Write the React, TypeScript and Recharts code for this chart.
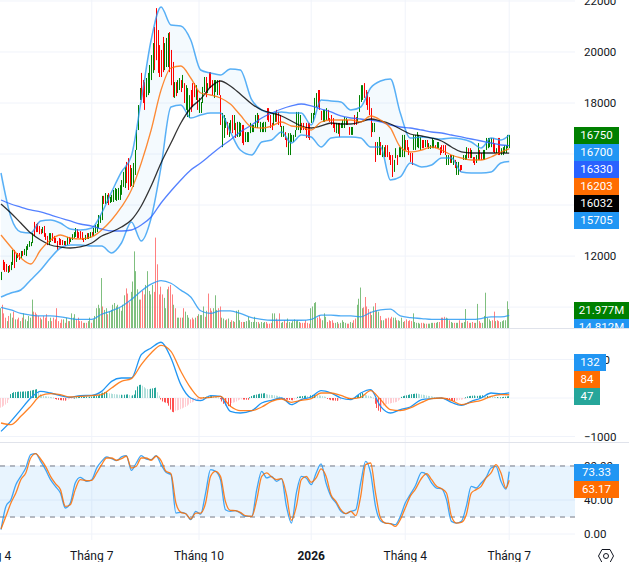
import { Area, Bar, CartesianGrid, ComposedChart, Line, ReferenceArea, ReferenceLine, XAxis, YAxis } from "recharts"

// daily price range
const highs = [
  11380, 11850, 11770, 11690, 11610, 11650, 11770, 12240, 12240, 12080, 12120, 12120, 12200, 12200, 12280, 12390, 12470, 12590, 12550, 12900,
  13340, 13260, 13300, 13180, 13060, 13140, 13180, 12900, 12790, 12900, 12900, 12900, 12790, 12710, 12590, 12710, 12670, 12630, 12590, 12590,
  12750, 12750, 12710, 12860, 12940, 13100, 13060, 12940, 12980, 12940, 12710, 12830, 12900, 12900, 12940, 12940, 13100, 13220, 13260, 13610,
  13610, 14360, 14360, 14470, 14400, 14470, 14320, 14400, 14590, 14670, 14630, 14670, 14780, 14980, 15300, 15490, 15690, 15840, 15570, 15450,
  15650, 16160, 16940, 17920, 18590, 19180, 18900, 18820, 18980, 19180, 19490, 19880, 20350, 20980, 21720, 20860, 20270, 20080, 20590, 20350,
  20550, 20740, 20780, 20080, 19610, 18820, 18820, 18900, 18980, 18900, 19100, 18780, 18700, 18590, 18310, 18510, 18780, 18780, 18700, 18510,
  18200, 18040, 18630, 19020, 19020, 18780, 19210, 19210, 18900, 18900, 18900, 18900, 18900, 18310, 17610, 17530, 17410, 17260, 17220, 17330,
  17530, 17530, 17220, 17260, 17260, 17220, 17140, 17140, 16860, 16860, 16860, 17220, 17140, 17140, 17530, 17610, 17530, 17260, 17220, 17260,
  17260, 17800, 17800, 17530, 17220, 17610, 17650, 17730, 17650, 17530, 17100, 17100, 16860, 16630, 16820, 16820, 16750, 16750, 16940, 17650,
  17650, 17530, 17220, 17220, 17060, 17220, 17220, 17220, 17610, 17610, 18200, 18390, 18510, 18510, 17690, 17730, 17730, 17800, 17730, 17410,
  17530, 17410, 17220, 17220, 17220, 17220, 17220, 17330, 17450, 17410, 17330, 17060, 17060, 17060, 17530, 17450, 17650, 18310, 18700, 18700,
  18780, 18510, 18430, 18230, 17800, 17220, 17220, 16470, 16470, 16670, 16470, 16350, 16270, 16350, 16350, 16080, 15960, 15960, 15770, 16230,
  15960, 16270, 16270, 16750, 16750, 16550, 16550, 16270, 16040, 16040, 16750, 16750, 16860, 16750, 16670, 16550, 16550, 16550, 16550, 16430,
  16350, 16630, 16550, 16350, 16470, 16470, 16270, 16350, 16350, 16350, 15960, 15960, 15960, 15960, 15960, 15770, 15690, 15690, 15570, 15570,
  15960, 15960, 16270, 16230, 16230, 16160, 15880, 15880, 15960, 16430, 16160, 16040, 16160, 16160, 16630, 16630, 16630, 16630, 16630, 16430,
  16230, 16630, 16630, 16230, 16270, 16350, 16350, 16750, 16750,
]
const lows = [
  11060, 11450, 11380, 11380, 11340, 11380, 11450, 11650, 11530, 11770, 11920, 11850, 11920, 12000, 12040, 12000, 12240, 12360, 12390, 12510,
  12790, 12940, 12940, 12860, 12860, 12900, 12750, 12630, 12430, 12430, 12550, 12590, 12510, 12510, 12240, 12430, 12430, 12430, 12430, 12390,
  12430, 12470, 12550, 12630, 12710, 12750, 12710, 12710, 12670, 12630, 12550, 12630, 12670, 12670, 12710, 12790, 12790, 12900, 12940, 13100,
  13300, 13410, 14040, 14040, 14080, 14000, 14080, 14120, 14120, 14200, 14160, 14200, 14200, 14400, 14710, 14670, 14860, 14590, 14710, 14750,
  14710, 15180, 16160, 16940, 18120, 18120, 18000, 17730, 18230, 18310, 18390, 18900, 19180, 19290, 19680, 19180, 19020, 19020, 19210, 19290,
  19410, 19410, 19210, 18700, 18230, 18200, 18270, 18390, 18510, 18430, 18590, 18000, 17730, 17450, 17410, 17650, 17840, 18230, 18120, 17730,
  17610, 17610, 18000, 18430, 18230, 18390, 18590, 18590, 18310, 18200, 18430, 18310, 18310, 17140, 16270, 16630, 17020, 16750, 16670, 16820,
  16820, 16940, 16630, 16670, 16670, 16710, 16430, 16350, 16470, 16470, 16470, 16820, 16860, 16860, 17020, 17020, 17220, 16860, 16860, 16860,
  16860, 17330, 17260, 17020, 16940, 17140, 17260, 17260, 17140, 17060, 16670, 16670, 16550, 16270, 15960, 15960, 16470, 16470, 16670, 16940,
  16940, 16820, 16940, 16940, 16940, 16630, 16630, 16550, 17220, 17260, 17530, 17840, 17840, 17730, 17330, 17260, 17260, 17330, 17330, 17260,
  17140, 17020, 16860, 16820, 16790, 16670, 17020, 17020, 17020, 17140, 17140, 16750, 16750, 16750, 17140, 17140, 17260, 17650, 18040, 18120,
  18200, 17920, 17730, 17530, 16670, 16860, 16860, 15690, 15960, 15960, 15960, 15880, 15880, 15880, 15880, 15770, 15570, 15100, 15300, 15840,
  15570, 15880, 15880, 15880, 15880, 16160, 16160, 15960, 15690, 15570, 16160, 16160, 16270, 16230, 16160, 16230, 16230, 16270, 16270, 16200,
  16200, 16230, 16230, 16230, 16230, 16230, 15960, 16040, 16040, 15960, 15570, 15570, 15650, 15650, 15570, 15450, 15180, 15180, 15300, 15370,
  15770, 15770, 15770, 15840, 15840, 15840, 15650, 15570, 15650, 15770, 15770, 15770, 15770, 15770, 16160, 16230, 16270, 16270, 16080, 16040,
  16040, 15960, 15960, 15960, 15960, 16040, 16040, 16230, 16230,
]
// days that closed down, the rest closed up
const redDays = [
  1, 2, 3, 5, 8, 10, 11, 13, 20, 21, 22, 23, 24, 26, 27, 28, 31, 32, 33, 34, 35, 36, 37, 39, 41, 46, 47, 48, 49, 50, 52, 55, 62, 65, 76, 77, 78,
  85, 86, 87, 93, 94, 95, 96, 97, 98, 102, 103, 104, 106, 109, 111, 115, 116, 117, 119, 124, 126, 127, 128, 132, 133, 137, 140, 142, 146, 147,
  156, 161, 162, 163, 164, 167, 168, 169, 172, 173, 182, 183, 184, 185, 186, 187, 192, 193, 194, 198, 199, 200, 201, 202, 205, 210, 211, 214, 215,
  220, 221, 222, 223, 224, 227, 230, 233, 234, 235, 236, 237, 240, 245, 246, 247, 248, 249, 255, 256, 258, 263, 266, 267, 268, 269, 272, 275, 278,
  279, 283, 284, 286, 287, 290, 291, 298, 299, 301, 302,
]
// volume in millions
const volumes = [
  23, 27, 17, 12, 8, 14, 17, 12, 19, 10, 10, 12, 8, 12, 17, 10, 8, 14, 12, 33, 19, 18, 16, 14, 12, 10, 14, 12, 16, 8, 12,
  8, 12, 10, 23, 8, 6, 10, 10, 6, 12, 8, 8, 17, 12, 16, 10, 12, 8, 8, 6, 6, 6, 8, 12, 6, 10, 14, 23, 27, 23, 58,
  25, 21, 23, 16, 19, 21, 27, 29, 25, 27, 23, 20, 27, 38, 46, 40, 30, 42, 54, 89, 66, 45, 33, 33, 43, 39, 50, 66, 43, 39, 50, 42, 105, 74,
  39, 48, 39, 35, 23, 45, 48, 50, 39, 27, 23, 12, 12, 12, 12, 23, 19, 15, 12, 10, 12, 10, 12, 14, 16, 15, 15, 25, 13, 20, 40, 23, 20, 23, 38,
  21, 23, 25, 12, 11, 9, 10, 11, 7, 9, 8, 7, 20, 21, 9, 7, 7, 7, 8, 13, 9, 7, 7, 13, 7, 7, 5, 7, 6, 7, 7, 5, 5, 6, 17, 17, 11, 8, 17, 6, 7, 9, 6,
  11, 7, 6, 8, 10, 8, 9, 7, 6, 6, 6, 9, 6, 5, 23, 25, 29, 30, 12, 15, 11, 9, 17, 13, 7, 9, 8, 9, 6, 6, 7, 5, 6, 9, 7, 6, 5, 5, 7, 6, 9, 11, 27, 34,
  47, 23, 24, 36, 25, 22, 19, 15, 25, 29, 20, 19, 14, 9, 9, 11, 11, 12, 11, 13, 12, 12, 9, 9, 8, 12, 7, 8, 10, 8, 9, 8, 17, 7, 6, 6, 5, 6, 6, 5, 5,
  5, 5, 6, 6, 6, 6, 7, 7, 12, 12, 13, 12, 11, 9, 7, 6, 6, 6, 6, 9, 6, 6, 7, 22, 8, 6, 6, 7, 6, 6, 28, 8, 6, 6, 14, 41, 12, 10, 8, 9, 19, 8, 9, 8, 7, 8, 9, 9, 31, 22,
]
const histogram = [
  -250, -230, -200, -170, -130, -40, 100, 130, 150, 155, 160, 165, 165, 165, 170, 170, 175, 180, 190, 200, 210, 220, 230, 150, 100, 70, 55, 45, 40, 35,
  25, 20, 15, -20, -40, -50, -55, -60, -65, -70, -60, -40, -25, -15, -10, 10, 20, 25, 30, 30, 30, 32, 35, 30, 35, 40, 45, 50, 55, 60,
  90, 120, 140, 150, 155, 130, 120, 115, 105, 100, 95, 90, 85, 85, 80, 85, 90, 95, 80, 60, 70, 90, 200, 300, 340, 345, 320, 280, 250, 235,
  230, 240, 250, 260, 270, 150, 60, -40, -90, -110, -120, -135, -200, -300, -360, -370, -330, -320, -310, -290, -270, -250, -230, -200, -170, -130, -110, -90, -70, -60,
  -50, -45, -35, 20, 25, 35, 40, 45, 50, 45, 35, 25, 15, -30, -90, -150, -190, -180, -210, -215, -130, -120, -110, -90, -60, -40, -35, -40, -42, -45,
  -48, 20, 50, 70, 80, 90, 100, 110, 115, 120, 125, 100, 90, 85, 80, 75, 70, 60, 55, 40, -15, -25, -35, -40, -45, -50, -55, -60, -40, -15,
  30, 40, 45, 50, 55, 60, 50, 40, 70, 80, 90, 85, 75, 70, 60, 50, 40, 30, -20, -40, -55, -60, -65, -70, -75, -60, -50, -30, -25, -20,
  -15, -25, -30, -20, -10, 30, 60, 90, 120, 135, 100, 80, 70, 60, 50, 30, 10, -150, -260, -330, -360, -250, -200, -170, -160, -150, -140, -130, -120, -110,
  -100, -70, -40, 30, 50, 60, 70, 80, 90, 100, 105, 110, 115, 110, 100, 90, 85, 75, 65, 55, 50, 45, 35, 25, 15, 10, 8, 5, -20, -30,
  -40, -50, -60, -70, -75, -80, -70, -60, -50, -45, -35, -25, 20, 40, 50, 55, 60, 65, 50, 55, 60, 65, 70, 60, 50, 55, 45, 40, 35, 30,
  25, 25, 20, 20, 22, 30, 35, 42, 47,
]

// indicator lines, one reading every 10 pixels of the chart
const bandUpper = [
  15256, 13532, 12944, 12904, 13375, 13414, 13296, 13061, 13022, 13100, 13688, 14512, 15296, 15923, 18118, 20470, 21764, 21058, 21019, 20470, 19294, 19176, 19098, 19333, 19294, 18118,
  17726, 17608, 17648, 17608, 17608, 17138, 18118, 18079, 18040, 17726, 17844, 18588, 18863, 18941, 17608, 16628, 16668, 16628, 16589, 16628, 16589, 16472, 16236, 16628, 16550, 16746,
]
const bandLower = [
  10396, 10552, 10670, 11062, 11454, 11924, 12316, 12434, 12434, 12395, 12395, 12120, 12512, 13336, 12591, 13492, 15492, 17844, 17922, 17412, 17530, 17608, 17608, 16864, 16158, 15962,
  16472, 16550, 16864, 16432, 16746, 16668, 16276, 16628, 16668, 16668, 16628, 16276, 16276, 14982, 15100, 15648, 15492, 15570, 15844, 15844, 15296, 15256, 15256, 15296, 15648, 15705,
]
const ma20 = [
  12826, 12356, 11924, 11689, 12238, 12630, 12826, 12708, 12669, 12748, 13022, 13414, 13924, 14590, 15648, 16942, 18510, 19372, 19451, 18980, 18392, 18314, 18196, 17961, 17530, 17060,
  17020, 17099, 17256, 17099, 17060, 16942, 17256, 17334, 17334, 17334, 17256, 17491, 17334, 17020, 16276, 16080, 16158, 16276, 16158, 15962, 15844, 15766, 15766, 15884, 16080, 16203,
]
const ma50 = [
  14041, 13688, 13296, 12904, 12630, 12434, 12356, 12316, 12356, 12512, 12787, 12944, 13140, 13414, 13963, 14747, 15648, 16432, 17216, 17804, 18157, 18628, 18863, 18667, 18353, 17961,
  17726, 17608, 17491, 17295, 17099, 17020, 17099, 17216, 17177, 17177, 17256, 17373, 17295, 17177, 16981, 16785, 16707, 16628, 16511, 16276, 16080, 16040, 16040, 16040, 16040, 16032,
]
const ma200 = [
  14198, 14041, 13923, 13806, 13728, 13610, 13492, 13375, 13257, 13178, 13061, 12983, 12983, 13022, 13218, 13532, 14080, 14551, 14982, 15374, 15648, 15962, 16276, 16550, 16864, 17138,
  17412, 17608, 17765, 17883, 17961, 17883, 17765, 17648, 17491, 17412, 17373, 17334, 17256, 17138, 17060, 17020, 16942, 16864, 16824, 16746, 16668, 16589, 16511, 16432, 16354, 16330,
]
const volumeMa = [
  24, 21, 17, 15, 14, 14, 13, 11, 10, 10, 16, 20, 25, 33, 43, 51, 55, 52, 44, 36, 20, 17, 20, 20, 17, 12,
  10, 9, 9, 9, 9, 10, 15, 15, 14, 14, 13, 18, 21, 22, 14, 12, 11, 10, 10, 10, 10, 10, 11, 13, 13, 14.8,
]
const macd = [
  -867, -607, -303, 0, 173, 130, 61, 17, 61, 69, 173, 433, 520, 520, 1127, 1300, 1450, 1040, 347, 0, -69, 61, 43, -347, -390, -329,
  -130, -61, 0, -173, -43, 26, 191, 130, 0, -43, 130, 217, -217, -390, -303, -234, -43, -17, 0, -113, -191, -87, 0, 130, 104, 132,
]
const macdSignal = [
  -650, -694, -477, -217, 61, 113, 87, 26, 43, 61, 87, 260, 433, 503, 867, 1170, 1370, 1214, 694, 260, 0, 17, 43, -217, -329, -329,
  -234, -87, -26, -113, -61, -17, 130, 130, 69, -17, 17, 191, -43, -303, -329, -260, -113, -17, 0, -61, -173, -113, -61, 43, 87, 84,
]

// stochastic, one reading every 5 pixels
const stochK = [
  5.1, 32.5, 40.4, 58, 67.8, 77.6, 93.3, 94.5, 85.5, 75.7, 63.9, 56, 48.2, 30.6, 36.5, 60, 66.7, 62, 63.9, 77.6, 85.5, 90.6, 88.6, 86.3, 90.6, 92.2, 74.9, 83.5, 92.2, 88.2, 87.5, 92.2, 81.6, 72.5,
  69.8, 24.7, 25.5, 23.9, 16.9, 26.7, 23.5, 48.2, 75.7, 73.7, 63.9, 28.6, 26.7, 27.5, 24.7, 20.8, 20.8, 52.2, 73.7, 65.9, 67.8, 62, 65.1, 32.5, 12.9, 48.2, 67.8, 65.9, 58, 71.8, 82.4,
  60, 44.3, 36.5, 26.7, 23.9, 26.7, 28.6, 60, 85.5, 71.8, 32.5, 15.7, 12.9, 12.2, 11, 20.8, 36.5, 46.3, 56.1, 72.5, 69.8, 60, 54.1, 53.3, 40.4, 14.9, 12.9, 14.9, 32.5, 56.1, 54.1, 60, 66.7, 77.6, 79.6, 62, 52.9, 73.33,
]
const stochD = [
  5.9, 20.8, 36.5, 48.2, 63.9, 71.8, 89.4, 94.5, 88.2, 79.6, 67.8, 59.2, 52.2, 32.5, 34.5, 52.2, 63.9, 62.7, 63.1, 71.8, 81.6, 89.4, 89.4, 86.7, 88.6, 91.4, 77.6, 79.6, 89.4, 89.4, 86.7, 91.4, 86.3, 73.7,
  71, 36.5, 25.5, 23.9, 17.6, 24.7, 24.7, 36.5, 67.8, 73.7, 67.8, 38.4, 27.8, 27.5, 25.5, 21.6, 20.8, 40.4, 67.8, 71.8, 67.1, 63.9, 65.1, 46.3, 16.1, 32.5, 63.9, 67.8, 60.8, 65.9, 76.5,
  67.8, 46.3, 38.4, 28.6, 23.9, 26.7, 21.6, 44.3, 81.6, 83.5, 48.2, 18.8, 12.9, 12.2, 9, 16.9, 30.6, 44.3, 52.2, 65.9, 71, 63.9, 56.1, 53.3, 48.2, 20.8, 12.9, 13.7, 22.7, 48.2, 52.2, 56.1, 65.9, 71.8, 81.6, 71.8, 54.1, 63.17,
]

const dateTicks = [-7, 55, 120, 188, 245, 308]
const dateLabels = ["Tháng 4", "Tháng 7", "Tháng 10", "2026", "Tháng 4", "Tháng 7"]
const priceTicks = [10000, 12000, 14000, 16000, 18000, 20000, 22000]
const macdTicks = [-1000, 0, 1000]
const stochTicks = [0, 40, 80]

const priceTags = [
  { text: "16750", color: "#008000", top: 127 },
  { text: "16700", color: "#2196f3", top: 144 },
  { text: "16330", color: "#2962ff", top: 161 },
  { text: "16203", color: "#ff6d00", top: 178 },
  { text: "16032", color: "#000000", top: 195 },
  { text: "15705", color: "#2196f3", top: 212 },
  { text: "21.977M", color: "#008000", top: 302 },
]
const macdTags = [
  { text: "132", color: "#2196f3", top: 354, width: 32 },
  { text: "84", color: "#ff6d00", top: 371, width: 26 },
  { text: "47", color: "#26a69a", top: 388, width: 26 },
]
const stochTags = [
  { text: "73.33", color: "#2196f3", top: 464 },
  { text: "63.17", color: "#ff6d00", top: 481 },
]

const FONT = "Roboto, sans-serif"
const DAY_DOMAIN: [number, number] = [-24.85, 347.88]
const GRID = "#f0f3fa"

const rows: any[] = highs.map((high, day) => ({
  day,
  high,
  low: lows[day],
  up: !redDays.includes(day),
  volume: volumes[day],
  hist: histogram[day],
}))

function placeReadings(key: string, values: number[], step: number) {
  values.forEach((v, k) => {
    rows[Math.min(Math.round(k * step), rows.length - 1)][key] = v
  })
}
placeReadings("upper", bandUpper, 6.06)
placeReadings("lower", bandLower, 6.06)
placeReadings("ma20", ma20, 6.06)
placeReadings("ma50", ma50, 6.06)
placeReadings("ma200", ma200, 6.06)
placeReadings("volMa", volumeMa, 6.06)
placeReadings("macd", macd, 6.06)
placeReadings("signal", macdSignal, 6.06)
placeReadings("k", stochK, 3.03)
placeReadings("d", stochD, 3.03)

// 1px wide marks, snapped so they stay crisp like the original
function thinBar(colorOf: (row: any) => string) {
  return (props: any) => {
    const top = Math.min(props.y, props.y + props.height)
    return (
      <rect
        x={Math.round(props.x)}
        y={top}
        width={1}
        height={Math.max(Math.abs(props.height), 1)}
        fill={colorOf(props.payload)}
      />
    )
  }
}

const candleColor = (r: any) => (r.up ? "#008000" : "#ff0000")
const volumeColor = (r: any) => (r.up ? "#7fbf7f" : "#ff8080")
const histColor = (r: any) => {
  const prev = histogram[r.day - 1] ?? r.hist
  if (r.hist >= 0) return r.hist >= prev ? "#26a69a" : "#b2dfdb"
  return r.hist < prev ? "#ff5252" : "#ffcdd2"
}

const axisTick = { fontSize: 11.5, fontFamily: FONT, fill: "#131722" }

function DateTick({ x, y, payload }: any) {
  const label = dateLabels[dateTicks.indexOf(payload.value)]
  return (
    <text x={x} y={y + 12} textAnchor="middle" fontSize={12} fontFamily={FONT} fill="#131722" fontWeight={label === "2026" ? 700 : 400}>
      {label}
    </text>
  )
}

function Tag({ text, color, top, left = 574, width = 45, height = 17 }: any) {
  return (
    <div
      style={{
        position: "absolute",
        left,
        top,
        width,
        height,
        overflow: "hidden",
        background: color,
        color: "#fff",
        fontFamily: FONT,
        fontSize: 11.5,
        lineHeight: "17px",
        textAlign: "center",
      }}
    >
      {text}
    </div>
  )
}

export default function App() {
  return (
    <div style={{ position: "absolute", left: 0, top: 0, width: 629, height: 562, overflow: "hidden", background: "#fff" }}>
      {/* Price + volume */}
      <div style={{ position: "absolute", left: -40, top: 0 }}>
        <ComposedChart width={669} height={328} data={rows} margin={{ top: 0, right: 0, bottom: 0, left: 0 }}>
          <XAxis dataKey="day" type="number" domain={DAY_DOMAIN} hide allowDataOverflow />
          <YAxis
            yAxisId="price"
            orientation="right"
            width={54}
            domain={[9180, 22038]}
            ticks={priceTicks}
            interval={0}
            allowDataOverflow
            axisLine={false}
            tickLine={false}
            tickSize={0}
            tickMargin={9}
            tick={axisTick}
          />
          <YAxis yAxisId="vol" hide domain={[0, 381]} allowDataOverflow />
          <CartesianGrid yAxisId="price" stroke={GRID} horizontalValues={priceTicks} verticalValues={dateTicks} />
          <Area
            yAxisId="price"
            type="monotone"
            dataKey={(r: any) => (r.upper === undefined ? null : [r.lower, r.upper])}
            stroke="none"
            fill="#2196f3"
            fillOpacity={0.05}
            activeDot={false}
            connectNulls
            isAnimationActive={false}
          />
          <Bar yAxisId="vol" dataKey="volume" barSize={1} shape={thinBar(volumeColor)} isAnimationActive={false} />
          <Bar yAxisId="price" dataKey={(r: any) => [r.low, r.high]} barSize={1} shape={thinBar(candleColor)} isAnimationActive={false} />
          <Line yAxisId="vol" type="monotone" dataKey="volMa" stroke="#2196f3" strokeOpacity={0.8} strokeWidth={1.3} dot={false} activeDot={false} connectNulls isAnimationActive={false} />
          <Line yAxisId="price" type="monotone" dataKey="upper" stroke="#2196f3" strokeOpacity={0.75} strokeWidth={1.5} dot={false} activeDot={false} connectNulls isAnimationActive={false} />
          <Line yAxisId="price" type="monotone" dataKey="lower" stroke="#2196f3" strokeOpacity={0.75} strokeWidth={1.5} dot={false} activeDot={false} connectNulls isAnimationActive={false} />
          <Line yAxisId="price" type="monotone" dataKey="ma200" stroke="#2962ff" strokeOpacity={0.8} strokeWidth={1.3} dot={false} activeDot={false} connectNulls isAnimationActive={false} />
          <Line yAxisId="price" type="monotone" dataKey="ma50" stroke="#000000" strokeOpacity={0.8} strokeWidth={1.3} dot={false} activeDot={false} connectNulls isAnimationActive={false} />
          <Line yAxisId="price" type="monotone" dataKey="ma20" stroke="#ff6d00" strokeOpacity={0.8} strokeWidth={1.3} dot={false} activeDot={false} connectNulls isAnimationActive={false} />
        </ComposedChart>
      </div>

      {/* MACD */}
      <div style={{ position: "absolute", left: -40, top: 329 }}>
        <ComposedChart width={669} height={113} data={rows} margin={{ top: 0, right: 0, bottom: 0, left: 0 }}>
          <XAxis dataKey="day" type="number" domain={DAY_DOMAIN} hide allowDataOverflow />
          <YAxis
            orientation="right"
            width={54}
            domain={[-1144, 1794]}
            ticks={macdTicks}
            interval={0}
            allowDataOverflow
            axisLine={false}
            tickLine={false}
            tickSize={0}
            tickMargin={9}
            tick={axisTick}
            tickFormatter={(v: number) => String(v).replace("-", "−")}
          />
          <CartesianGrid stroke={GRID} horizontalValues={macdTicks} verticalValues={dateTicks} />
          <Bar dataKey="hist" barSize={1} shape={thinBar(histColor)} isAnimationActive={false} />
          <Line type="monotone" dataKey="macd" stroke="#2196f3" strokeWidth={1.3} dot={false} activeDot={false} connectNulls isAnimationActive={false} />
          <Line type="monotone" dataKey="signal" stroke="#ff6d00" strokeOpacity={0.85} strokeWidth={1.3} dot={false} activeDot={false} connectNulls isAnimationActive={false} />
        </ComposedChart>
      </div>

      {/* Stochastic + date axis */}
      <div style={{ position: "absolute", left: -40, top: 443 }}>
        <ComposedChart width={669} height={119} data={rows} margin={{ top: 0, right: 0, bottom: 0, left: 0 }}>
          <XAxis
            dataKey="day"
            type="number"
            domain={DAY_DOMAIN}
            ticks={dateTicks}
            interval={0}
            height={22}
            allowDataOverflow
            axisLine={false}
            tickLine={false}
            tick={<DateTick />}
          />
          <YAxis
            orientation="right"
            width={54}
            domain={[-7, 107]}
            ticks={stochTicks}
            interval={0}
            allowDataOverflow
            axisLine={false}
            tickLine={false}
            tickSize={0}
            tickMargin={9}
            tick={axisTick}
            tickFormatter={(v: number) => v.toFixed(2)}
          />
          <ReferenceArea y1={20} y2={80} fill="#2196f3" fillOpacity={0.1} stroke="none" />
          <CartesianGrid stroke={GRID} horizontalValues={stochTicks} verticalValues={dateTicks} />
          <ReferenceLine y={80} stroke="#787b86" strokeDasharray="5 5" />
          <ReferenceLine y={20} stroke="#787b86" strokeDasharray="5 5" />
          <Line type="monotone" dataKey="k" stroke="#2196f3" strokeOpacity={0.85} strokeWidth={1.3} dot={false} activeDot={false} connectNulls isAnimationActive={false} />
          <Line type="monotone" dataKey="d" stroke="#ff6d00" strokeOpacity={0.85} strokeWidth={1.3} dot={false} activeDot={false} connectNulls isAnimationActive={false} />
        </ComposedChart>
      </div>

      {/* pane separators */}
      <div style={{ position: "absolute", left: 0, top: 328, width: 629, height: 1, background: "#e0e3eb" }} />
      <div style={{ position: "absolute", left: 0, top: 442, width: 629, height: 1, background: "#e0e3eb" }} />

      {/* last value tags */}
      {priceTags.map((t, i) => (
        <Tag key={i} {...t} width={t.text.length > 5 ? 55 : 45} />
      ))}
      <Tag text="14.812M" color="#2196f3" top={319} width={55} height={9} />
      {macdTags.map((t, i) => (
        <Tag key={i} {...t} />
      ))}
      {stochTags.map((t, i) => (
        <Tag key={i} {...t} />
      ))}

      {/* settings button */}
      <svg style={{ position: "absolute", left: 597, top: 547 }} width={18} height={18} viewBox="0 0 18 18">
        <path d="M5 2.5 L13 2.5 L16.5 9 L13 15.5 L5 15.5 L1.5 9 Z" fill="none" stroke="#131722" strokeWidth={1} />
        <circle cx={9} cy={9} r={2.5} fill="none" stroke="#131722" strokeWidth={1} />
      </svg>
    </div>
  )
}
